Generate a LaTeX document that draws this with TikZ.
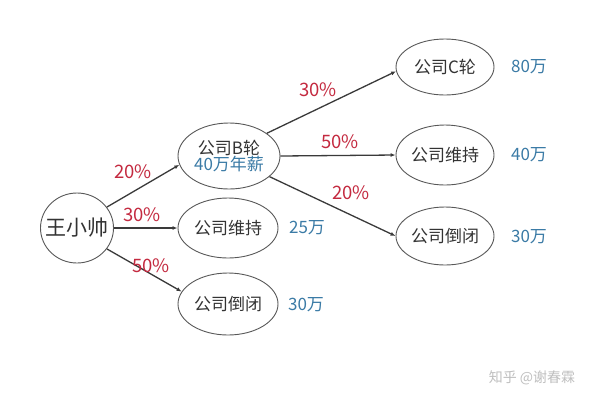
\documentclass[tikz,border=0pt]{standalone}
\usepackage{fontspec}
\setmainfont{Noto Sans CJK SC}
\usetikzlibrary{shapes.geometric,arrows.meta}
\definecolor{pct}{HTML}{C42A40}
\definecolor{val}{HTML}{3B7BA6}
\definecolor{txt}{HTML}{333333}
\definecolor{edge}{HTML}{3A3A3A}
\tikzset{
  ell/.style={ellipse,draw=edge!85,line width=0.9pt,inner sep=0pt,text=txt,font=\fontsize{17}{20}\selectfont},
  conn/.style={draw=edge,line width=1.3pt,-{Latex[open,length=5pt,width=4pt]}},
  pctlab/.style={text=pct,font=\fontsize{18.5}{22}\selectfont,inner sep=0pt},
  vallab/.style={text=val,font=\fontsize{17}{20}\selectfont,inner sep=0pt},
}
\begin{document}
\begin{tikzpicture}[x=1pt,y=1pt]
\useasboundingbox[fill=white] (0,0) rectangle (600,-400);
% nodes
\node[ell,minimum width=73pt,minimum height=70pt,font=\fontsize{21}{24}\selectfont] (w) at (77,-228) {\makebox[0pt]{王小帅}};
\node[ell,minimum width=102pt,minimum height=66pt,align=center] (b) at (229,-156) {公司B轮\\[-4pt]\textcolor{val}{40万年薪}};
\node[ell,minimum width=100pt,minimum height=60pt] (m) at (228,-228) {\makebox[0pt]{公司维持}};
\node[ell,minimum width=100pt,minimum height=62pt] (d) at (228,-304) {\makebox[0pt]{公司倒闭}};
\node[ell,minimum width=98pt,minimum height=56pt] (c) at (445,-67) {\makebox[0pt]{公司C轮}};
\node[ell,minimum width=98pt,minimum height=60pt] (m2) at (445,-155) {\makebox[0pt]{公司维持}};
\node[ell,minimum width=98pt,minimum height=58pt] (d2) at (445,-236) {\makebox[0pt]{公司倒闭}};
% values
\node[vallab] (v1) at (529,-67) {80万};
\node[vallab] (v2) at (529,-155) {40万};
\node[vallab] (v3) at (529,-237) {30万};
\node[vallab] (v4) at (307,-228) {25万};
\node[vallab] (v5) at (306,-305) {30万};
% connectors
\draw[conn] (w.35) -- (b.190);
\draw[conn] (w.east) -- (m.west);
\draw[conn] (w.-35) -- (d.165);
\draw[conn] (b.31) -- (c.185);
\draw[conn] (b.east) -- (m2.west);
\draw[conn] (b.-27) -- (d2.180);
% percentages
\node[pctlab] (p1) at (133,-172) {20\%};
\node[pctlab] (p2) at (142,-215) {30\%};
\node[pctlab] (p3) at (151,-266) {50\%};
\node[pctlab] (p4) at (318,-90) {30\%};
\node[pctlab] (p5) at (340,-142) {50\%};
\node[pctlab] (p6) at (351,-193) {20\%};
% watermark
\node[text=black!25,font=\fontsize{14}{16}\selectfont,inner sep=0pt] (wm) at (532,-378) {知乎 @谢春霖};
\end{tikzpicture}
\end{document}
